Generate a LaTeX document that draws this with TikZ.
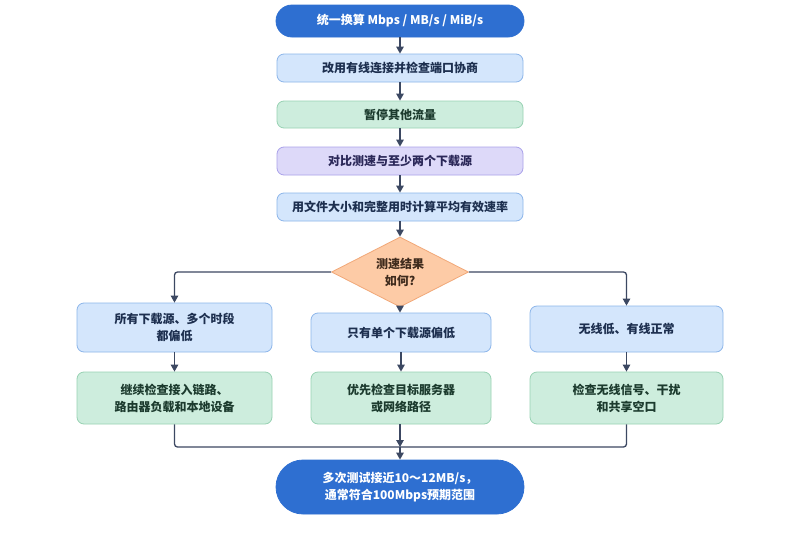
\documentclass[tikz,border=0pt]{standalone}
\usepackage{fontspec}
\setmainfont{Noto Sans CJK SC}
\usetikzlibrary{shapes.geometric,arrows.meta}
\definecolor{termblue}{HTML}{2E6FD1}
\definecolor{bluefill}{HTML}{D4E6FC}
\definecolor{blueedge}{HTML}{8DB6EA}
\definecolor{bluetext}{HTML}{1D2F4F}
\definecolor{greenfill}{HTML}{CDEDDD}
\definecolor{greenedge}{HTML}{98D2B3}
\definecolor{greentext}{HTML}{1C3B2E}
\definecolor{purplefill}{HTML}{DDD9F9}
\definecolor{purpleedge}{HTML}{AAA2EA}
\definecolor{purpletext}{HTML}{2A2758}
\definecolor{orangefill}{HTML}{FDCBA6}
\definecolor{orangeedge}{HTML}{F1A878}
\definecolor{orangetext}{HTML}{3E2A1C}
\definecolor{linecol}{HTML}{3C4862}
\begin{document}
\begin{tikzpicture}[x=1pt,y=-1pt,
  base/.style={align=center,font=\fontsize{12}{17}\selectfont\bfseries,inner sep=0pt,line width=0.8pt},
  term/.style={base,fill=termblue,draw=termblue,text=white,rounded corners=16pt},
  bluebox/.style={base,fill=bluefill,draw=blueedge,text=bluetext,rounded corners=7pt},
  greenbox/.style={base,fill=greenfill,draw=greenedge,text=greentext,rounded corners=7pt},
  purplebox/.style={base,fill=purplefill,draw=purpleedge,text=purpletext,rounded corners=7pt},
  decision/.style={base,diamond,fill=orangefill,draw=orangeedge,text=orangetext,aspect=1.96,inner sep=0pt},
  conn/.style={draw=linecol,line width=1.3pt,-{Triangle[width=7.5pt,length=7pt]}},
  plain/.style={draw=linecol,line width=1.3pt},
  arr/.style={rounded corners=3pt}]
\useasboundingbox (0,0) rectangle (800,533);
\fill[white] (0,0) rectangle (800,533);

\node[term,minimum width=248pt,minimum height=32pt] (t1) at (400,21) {统一换算 Mbps / MB/s / MiB/s};
\node[bluebox,minimum width=246pt,minimum height=28pt] (b2) at (400,68) {改用有线连接并检查端口协商};
\node[greenbox,minimum width=246pt,minimum height=27pt] (b3) at (400,114.5) {暂停其他流量};
\node[purplebox,minimum width=246pt,minimum height=28pt] (b4) at (400,161) {对比测速与至少两个下载源};
\node[bluebox,minimum width=246pt,minimum height=28pt] (b5) at (400,207) {用文件大小和完整用时计算平均有效速率};
\node[decision,minimum width=137pt,minimum height=70pt] (d) at (400,272) {测速结果\\如何?};

\node[bluebox,minimum width=195pt,minimum height=49pt] (l1) at (174.5,327.5) {所有下载源、多个时段\\都偏低};
\node[bluebox,minimum width=180pt,minimum height=39pt] (m1) at (401,332.5) {只有单个下载源偏低};
\node[bluebox,minimum width=193pt,minimum height=46pt] (r1) at (626.5,329) {无线低、有线正常};

\node[greenbox,minimum width=195pt,minimum height=52pt] (l2) at (174.5,398) {继续检查接入链路、\\路由器负载和本地设备};
\node[greenbox,minimum width=180pt,minimum height=52pt] (m2) at (401,398) {优先检查目标服务器\\或网络路径};
\node[greenbox,minimum width=193pt,minimum height=52pt] (r2) at (626.5,398) {检查无线信号、干扰\\和共享空口};

\node[term,minimum width=248pt,minimum height=54pt,rounded corners=27pt] (f) at (400,487) {多次测试接近10～12MB/s，\\通常符合100Mbps预期范围};

\coordinate (j) at (400,447);

\draw[conn] (t1) -- (b2);
\draw[conn] (b2) -- (b3);
\draw[conn] (b3) -- (b4);
\draw[conn] (b4) -- (b5);
\draw[conn] (b5) -- (d);
\draw[conn,arr] (d.west) -- (l1.north |- d.west) -- (l1.north);
\draw[conn,arr] (d.east) -- (r1.north |- d.east) -- (r1.north);
\draw[conn] (d.south) -- (m1.north -| d.south);
\draw[conn] (l1) -- (l2);
\draw[conn] (m1) -- (m2);
\draw[conn] (r1) -- (r2);
\draw[plain,arr] (l2.south) -- (l2.south |- j) -- (j);
\draw[plain,arr] (r2.south) -- (r2.south |- j) -- (j);
\draw[conn] (m2.south -| j) -- (j);
\draw[conn] (j) -- (f);
\end{tikzpicture}
\end{document}
